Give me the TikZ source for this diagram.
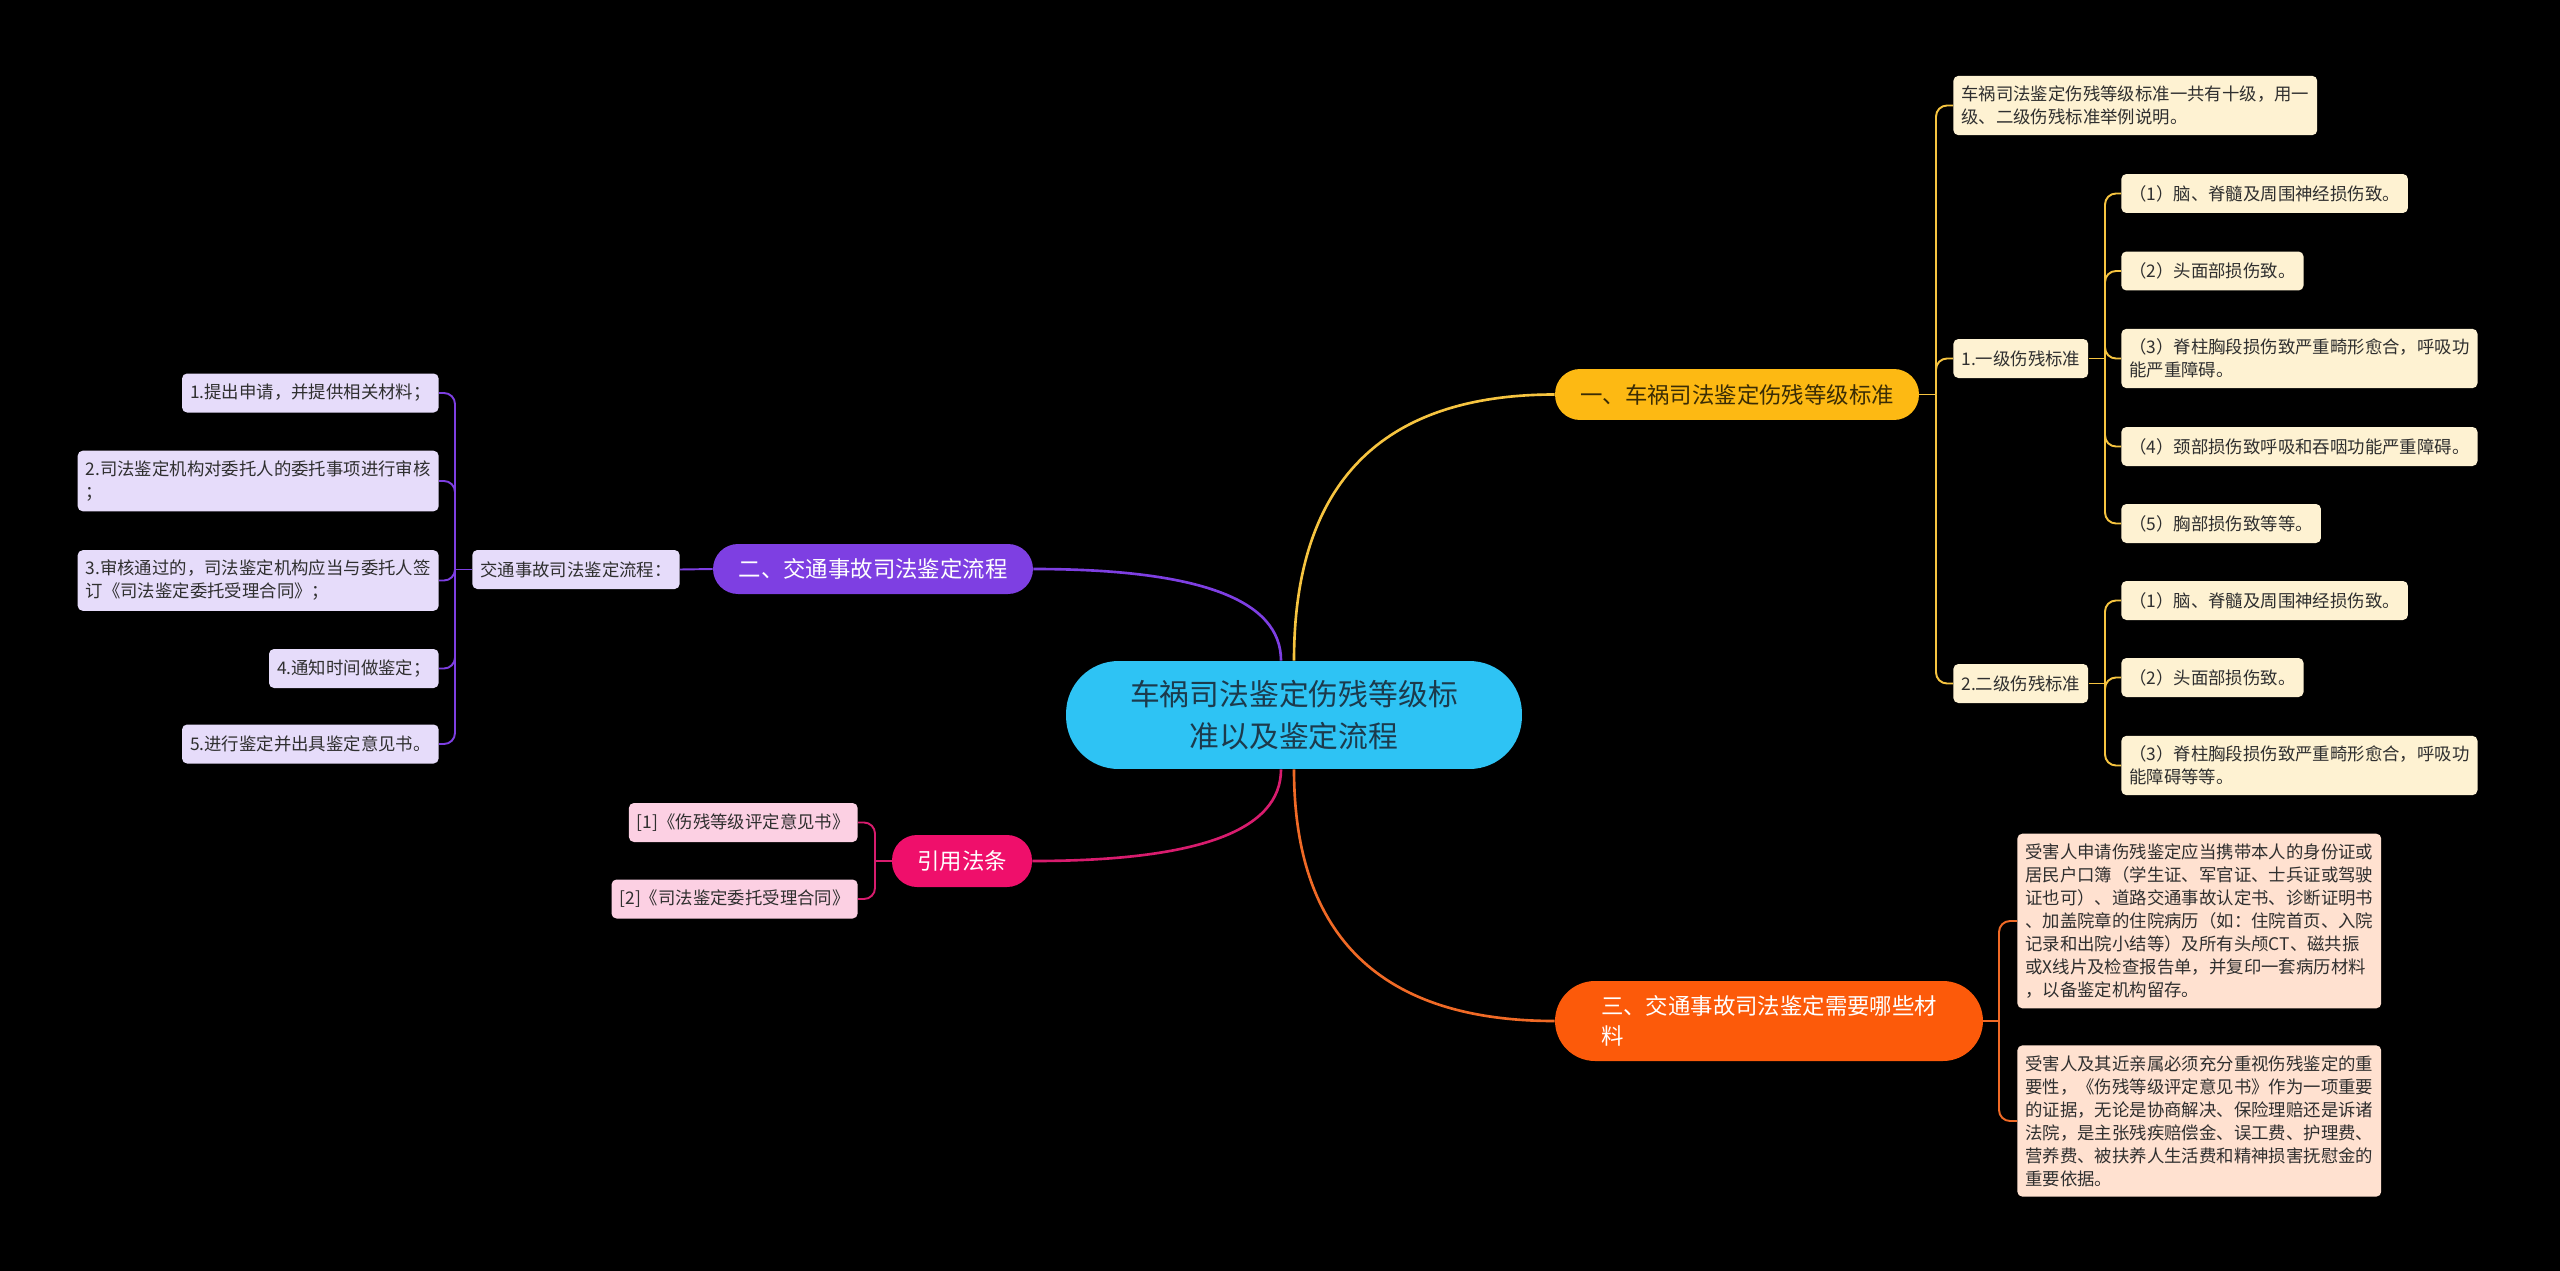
\documentclass[tikz,border=0pt]{standalone}
\usepackage{fontspec}
\setmainfont{Noto Sans CJK SC}
\usetikzlibrary{calc}
\definecolor{rootblue}{HTML}{2EC3F4}
\definecolor{rootink}{HTML}{1C3A4C}
\definecolor{yel}{HTML}{FDB913}
\definecolor{yelink}{HTML}{3A2C05}
\definecolor{yelline}{HTML}{F6C440}
\definecolor{yelleaf}{HTML}{FEF2D2}
\definecolor{pur}{HTML}{7E3FE2}
\definecolor{purleaf}{HTML}{E6DCFA}
\definecolor{org}{HTML}{FC5A0A}
\definecolor{orgline}{HTML}{F06A26}
\definecolor{orgleaf}{HTML}{FFE1D0}
\definecolor{pnk}{HTML}{EF0F6B}
\definecolor{pnkline}{HTML}{D81C6E}
\definecolor{pnkleaf}{HTML}{FCD0E3}
\definecolor{ink}{HTML}{2F2F2F}

\begin{document}
\begin{tikzpicture}[x=0.02cm,y=-0.02cm,
  leaf/.style={rounded corners=0.1cm,inner xsep=0.16cm,inner ysep=0.2cm,minimum height=0.78cm,align=left,text=ink,font=\fontsize{9.9}{13.1}\selectfont},
  branch/.style={rounded corners=0.5cm,minimum height=1cm,text=white,font=\fontsize{12.75}{17.1}\selectfont},
  main/.style={line width=1.5pt},
  sub/.style={line width=1.1pt,rounded corners=0.22cm}]
\fill[black] (0,0) rectangle (2560,1271);

% centre and main branches
\node[fill=rootblue,rounded corners=1.05cm,minimum width=9.12cm,minimum height=2.16cm,align=center,text=rootink,font=\fontsize{16.96}{23.7}\selectfont] (root) at (1294,715) {车祸司法鉴定伤残等级标\\准以及鉴定流程};
\node[branch,fill=yel,text=yelink,minimum width=7.28cm,minimum height=1.02cm] (b1) at (1737,394.5) {一、车祸司法鉴定伤残等级标准};
\node[branch,fill=pur,minimum width=6.4cm] (b2) at (873,569) {二、交通事故司法鉴定流程};
\node[branch,fill=org,rounded corners=0.8cm,minimum width=8.56cm,minimum height=1.6cm,align=left] (b3) at (1769,1021) {三、交通事故司法鉴定需要哪些材\\料};
\node[branch,fill=pnk,minimum width=2.8cm,minimum height=1.04cm] (b4) at (962,861) {引用法条};

\draw[main,yelline] (root.north) .. controls +(0,-178) and +(-173,0) .. (b1.west);
\draw[main,pur] ([xshift=-0.26cm]root.north) .. controls +(0,-61) and +(166,0) .. (b2.east);
\draw[main,pnkline] ([xshift=-0.26cm]root.south) .. controls +(0,61) and +(167,0) .. (b4.east);
\draw[main,orgline] (root.south) .. controls +(0,168) and +(-173,0) .. (b3.west);

% branch one
\node[leaf,fill=yelleaf,anchor=west] (c1a) at (1953,105.5) {车祸司法鉴定伤残等级标准一共有十级，用一\\级、二级伤残标准举例说明。};
\node[leaf,fill=yelleaf,anchor=west] (c1b) at (1953,358.5) {1.一级伤残标准};
\node[leaf,fill=yelleaf,anchor=west] (c1c) at (1953,683.5) {2.二级伤残标准};
\node[leaf,fill=yelleaf,anchor=west] (l1) at (2121,193.5) {（1）脑、脊髓及周围神经损伤致。};
\node[leaf,fill=yelleaf,anchor=west] (l2) at (2121,271) {（2）头面部损伤致。};
\node[leaf,fill=yelleaf,anchor=west] (l3) at (2121,358.5) {（3）脊柱胸段损伤致严重畸形愈合，呼吸功\\能严重障碍。};
\node[leaf,fill=yelleaf,anchor=west] (l4) at (2121,446.5) {（4）颈部损伤致呼吸和吞咽功能严重障碍。};
\node[leaf,fill=yelleaf,anchor=west] (l5) at (2121,523.5) {（5）胸部损伤致等等。};
\node[leaf,fill=yelleaf,anchor=west] (m1) at (2121,600.5) {（1）脑、脊髓及周围神经损伤致。};
\node[leaf,fill=yelleaf,anchor=west] (m2) at (2121,677.5) {（2）头面部损伤致。};
\node[leaf,fill=yelleaf,anchor=west] (m3) at (2121,765.5) {（3）脊柱胸段损伤致严重畸形愈合，呼吸功\\能障碍等等。};

\coordinate (t1) at (1936,394.5);
\coordinate (t2) at (2105,358.5);
\coordinate (t3) at (2105,683.5);
\draw[sub,yelline] (b1.east) -- (t1);
\draw[sub,yelline] (c1b.east) -- (t2);
\draw[sub,yelline] (c1c.east) -- (t3);
\foreach \n in {c1a,c1b,c1c} \draw[sub,yelline] (t1) |- (\n.west);
\foreach \n in {l1,l2,l3,l4,l5} \draw[sub,yelline] (t2) |- (\n.west);
\foreach \n in {m1,m2,m3} \draw[sub,yelline] (t3) |- (\n.west);

% branch two
\node[leaf,fill=purleaf,anchor=east] (p0) at (680,569.5) {交通事故司法鉴定流程：};
\node[leaf,fill=purleaf,anchor=east] (q1) at (439,393) {1.提出申请，并提供相关材料；};
\node[leaf,fill=purleaf,anchor=east] (q2) at (439,481) {2.司法鉴定机构对委托人的委托事项进行审核\\；};
\node[leaf,fill=purleaf,anchor=east] (q3) at (439,580.5) {3.审核通过的，司法鉴定机构应当与委托人签\\订《司法鉴定委托受理合同》；};
\node[leaf,fill=purleaf,anchor=east] (q4) at (439,668.5) {4.通知时间做鉴定；};
\node[leaf,fill=purleaf,anchor=east] (q5) at (439,744) {5.进行鉴定并出具鉴定意见书。};
\coordinate (t4) at (455,569.5);
\draw[sub,pur] (b2.west) -- (p0.east);
\draw[sub,pur] (p0.west) -- (t4);
\foreach \n in {q1,q2,q3,q4,q5} \draw[sub,pur] (t4) |- (\n.east);

% branch four
\node[leaf,fill=pnkleaf,anchor=east] (r1) at (858,822.5) {[1]《伤残等级评定意见书》};
\node[leaf,fill=pnkleaf,anchor=east] (r2) at (858,899) {[2]《司法鉴定委托受理合同》};
\coordinate (t5) at (875,861);
\draw[sub,pnkline] (b4.west) -- (t5);
\foreach \n in {r1,r2} \draw[sub,pnkline] (t5) |- (\n.east);

% branch three
\node[leaf,fill=orgleaf,anchor=west] (o1) at (2017,921) {受害人申请伤残鉴定应当携带本人的身份证或\\居民户口簿（学生证、军官证、士兵证或驾驶\\证也可）、道路交通事故认定书、诊断证明书\\、加盖院章的住院病历（如：住院首页、入院\\记录和出院小结等）及所有头颅CT、磁共振\\或X线片及检查报告单，并复印一套病历材料\\，以备鉴定机构留存。};
\node[leaf,fill=orgleaf,anchor=west] (o2) at (2017,1121) {受害人及其近亲属必须充分重视伤残鉴定的重\\要性，《伤残等级评定意见书》作为一项重要\\的证据，无论是协商解决、保险理赔还是诉诸\\法院，是主张残疾赔偿金、误工费、护理费、\\营养费、被扶养人生活费和精神损害抚慰金的\\重要依据。};
\coordinate (t6) at (1999,1021);
\draw[sub,orgline] (b3.east) -- (t6);
\foreach \n in {o1,o2} \draw[sub,orgline] (t6) |- (\n.west);
\end{tikzpicture}
\end{document}
